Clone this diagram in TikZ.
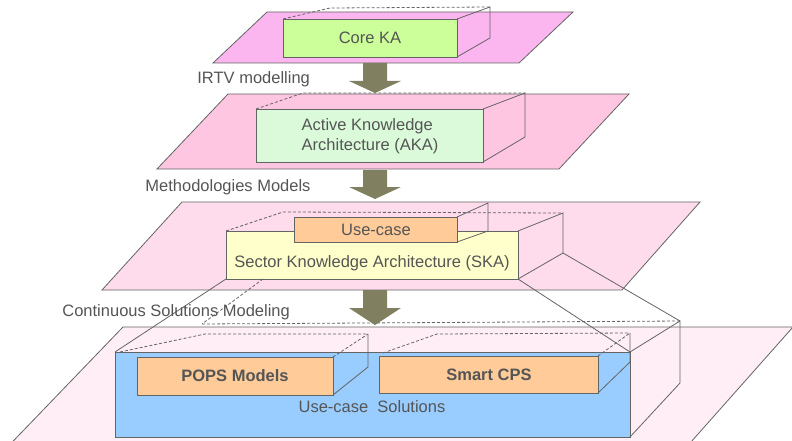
\documentclass[tikz,border=0pt]{standalone}
\usepackage{fontspec}
\setmainfont{Liberation Sans}
\usepackage{xcolor}
\definecolor{edgegray}{RGB}{100,100,100}
\definecolor{textgray}{RGB}{85,85,85}
\definecolor{planeone}{RGB}{251,182,240}
\definecolor{planetwo}{RGB}{255,198,226}
\definecolor{planethree}{RGB}{255,220,236}
\definecolor{planefour}{RGB}{255,238,246}
\definecolor{coregreen}{RGB}{204,255,153}
\definecolor{akagreen}{RGB}{218,250,218}
\definecolor{skayellow}{RGB}{255,255,204}
\definecolor{peach}{RGB}{255,204,153}
\definecolor{solblue}{RGB}{153,204,255}
\definecolor{olive}{RGB}{128,128,96}
\newcommand{\edgecol}{edgegray}
% block arrow: shaft top, head top, tip
\newcommand{\blockarrow}[3]{\fill[olive] (363,#1) -- (387,#1) -- (387,#2) -- (401,#2) -- (375,#3) -- (349,#2) -- (363,#2) -- cycle;}

\begin{document}
\begin{tikzpicture}[x=1pt, y=-1pt, line width=0.8pt,
    hidden/.style={dash pattern=on 3pt off 2pt},
    every node/.style={font=\fontsize{16.5}{20}\selectfont, text=textgray, inner sep=0pt}]
        \useasboundingbox (0,0) rectangle (792,441);
        \clip (0,0) rectangle (792,441);

        % planes
        \draw[\edgecol, fill=planeone] (267,12) -- (573,12) -- (519,63) -- (213,63) -- cycle;
        \draw[\edgecol, fill=planetwo] (228,94) -- (629,94) -- (559,169) -- (157,169) -- cycle;
        \draw[\edgecol, fill=planethree] (182,202) -- (700,202) -- (622,290) -- (102,290) -- cycle;
        \draw[\edgecol, fill=planefour] (123,327) -- (793,327) -- (675,460) -- (-5,460) -- cycle;

        % core KA box
        \coordinate (coreA) at (283,19);
        \coordinate (coreB) at (457,19);
        \coordinate (coreC) at (457,57);
        \coordinate (coreD) at (283,57);
        \coordinate (coreE) at (490,7);
        \coordinate (coreF) at (490,38);
        \draw[\edgecol, hidden] (coreA) -- (330,8) -- (coreE);
        \draw[\edgecol, fill=coregreen] (coreA) rectangle (coreC);
        \draw[\edgecol] (coreB) -- (coreE) -- (coreF) -- (coreC);
        \node (coreka) at (370,38) {Core KA};

        % AKA box
        \coordinate (akaA) at (256,109);
        \coordinate (akaB) at (483,109);
        \coordinate (akaC) at (483,162);
        \coordinate (akaE) at (525,93);
        \coordinate (akaF) at (525,137);
        \draw[\edgecol, hidden] (akaA) -- (303,93) -- (akaE);
        \draw[\edgecol, fill=akagreen] (akaA) rectangle (akaC);
        \draw[\edgecol] (akaB) -- (akaE) -- (akaF) -- (akaC);
        \node[align=left] (aka) at (370,136) {Active Knowledge\\Architecture (AKA)};

        % SKA box
        \coordinate (skaA) at (226,231);
        \coordinate (skaB) at (518,231);
        \coordinate (skaC) at (518,279);
        \coordinate (skaD) at (226,279);
        \coordinate (skaE) at (563,213);
        \coordinate (skaF) at (563,253);
        \draw[\edgecol, hidden] (skaA) -- (283,212) -- (skaE);
        \draw[\edgecol, fill=skayellow] (skaA) rectangle (skaC);
        \draw[\edgecol] (skaB) -- (skaE) -- (skaF) -- (skaC);
        \node (ska) at (372,263) {Sector Knowledge Architecture (SKA)};

        % use-case box
        \draw[\edgecol, fill=peach] (294,217) rectangle (457,242);
        \draw[\edgecol] (457,217) -- (488,203) -- (488,231) -- (457,242);
        \node (usecase) at (376,230) {Use-case};

        % solutions box
        \coordinate (solA) at (115,352);
        \coordinate (solB) at (630,352);
        \coordinate (solC) at (630,437);
        \coordinate (solE) at (680,321);
        \coordinate (solF) at (680,383);
        \coordinate (solG) at (202,324);
        \draw[\edgecol, hidden] (solG) -- (solE);
        \draw[\edgecol, fill=solblue] (solA) rectangle (solC);
        \draw[\edgecol] (solB) -- (solE) -- (solF) -- (solC);

        % links SKA to solutions
        \draw[\edgecol] (skaD) -- (solA);
        \draw[\edgecol] (skaC) -- (solB);
        \draw[\edgecol] (skaF) -- (solE);
        \draw[\edgecol, hidden] (263,279) -- (solG);

        % POPS box
        \draw[\edgecol, hidden] (120,352) -- (205,334) -- (368,334);
        \draw[\edgecol, hidden] (333,357) -- (368,334);
        \draw[\edgecol, fill=peach] (137,357) rectangle (333,395);
        \draw[\edgecol] (368,334) -- (368,367) -- (333,395);
        \node[font=\fontsize{16.5}{20}\selectfont\bfseries] (pops) at (235,376) {POPS Models};

        % smart CPS box
        \draw[\edgecol, hidden] (383,353) -- (437,334) -- (630,333);
        \draw[\edgecol, hidden] (598,356) -- (630,333);
        \draw[\edgecol, fill=peach] (379,356) rectangle (598,393);
        \draw[\edgecol] (630,333) -- (630,362) -- (598,393);
        \node[font=\fontsize{16.5}{20}\selectfont\bfseries] (smartcps) at (489,375) {Smart CPS};

        \node (solutions) at (372,407) {Use-case\ \ Solutions};

        % arrows
        \blockarrow{63}{81}{93}
        \blockarrow{170}{187}{199}
        \blockarrow{290}{308}{325}

        % labels
        \node[anchor=west] (irtv) at (197,79) {IRTV modelling};
        \node[anchor=west] (methmodels) at (145,187) {Methodologies Models};
        \node[anchor=west] (contmodeling) at (62,312) {Continuous Solutions Modeling};
\end{tikzpicture}
\end{document}
